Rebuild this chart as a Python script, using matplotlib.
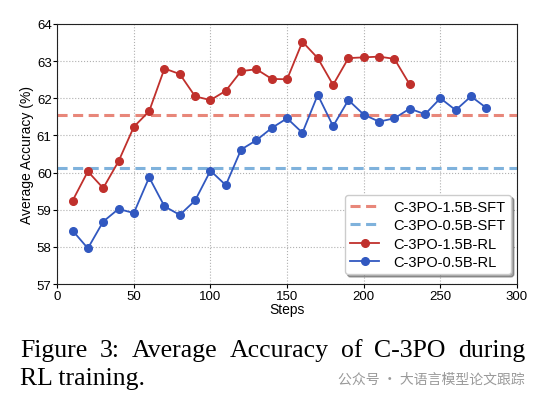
import matplotlib.pyplot as plt

steps_15b = [10, 20, 30, 40, 50, 60, 70, 80, 90, 100, 110, 120, 130, 140, 150,
             160, 170, 180, 190, 200, 210, 220, 230]
acc_15b = [59.24, 60.03, 59.58, 60.30, 61.23, 61.65, 62.80, 62.65, 62.05, 61.95,
           62.20, 62.73, 62.78, 62.52, 62.51, 63.52, 63.08, 62.36, 63.08, 63.10,
           63.12, 63.06, 62.37]

steps_05b = [10, 20, 30, 40, 50, 60, 70, 80, 90, 100, 110, 120, 130, 140, 150,
             160, 170, 180, 190, 200, 210, 220, 230, 240, 250, 260, 270, 280]
acc_05b = [58.44, 57.96, 58.68, 59.02, 58.91, 59.87, 59.09, 58.86, 59.25, 60.05,
           59.66, 60.62, 60.87, 61.20, 61.46, 61.07, 62.09, 61.25, 61.95, 61.56,
           61.37, 61.46, 61.72, 61.57, 62.00, 61.68, 62.05, 61.74]

sft_15b = 61.55
sft_05b = 60.12

caption_line1 = ['Figure', '3:', 'Average', 'Accuracy', 'of', 'C-3PO', 'during']
caption_line2 = 'RL training.'
watermark = '公众号 · 大语言模型论文跟踪'

plt.rcParams['font.family'] = ['Liberation Sans', 'DejaVu Sans']

fig = plt.figure(figsize=(5.5, 4.02), dpi=100)
ax = fig.add_axes([0.104, 0.291, 0.836, 0.647])

ax.axhline(sft_15b, color='#e8877a', linestyle='--', linewidth=2.2, dashes=(3.3, 1.8),
           label='C-3PO-1.5B-SFT', zorder=2)
ax.axhline(sft_05b, color='#7fb2dc', linestyle='--', linewidth=2.2, dashes=(3.3, 1.8),
           label='C-3PO-0.5B-SFT', zorder=2)
ax.plot(steps_15b, acc_15b, color='#c0302c', marker='o', markersize=5.5,
        linewidth=1.3, label='C-3PO-1.5B-RL', zorder=3)
ax.plot(steps_05b, acc_05b, color='#3158c0', marker='o', markersize=5.5,
        linewidth=1.3, label='C-3PO-0.5B-RL', zorder=3)

ax.set_xlim(0, 300)
ax.set_ylim(57, 64)
ax.set_xticks(range(0, 301, 50))
ax.set_yticks(range(57, 65))
ax.tick_params(labelsize=9.5, length=3, pad=1)
ax.grid(True, linestyle=':', color='#b0b0b0', linewidth=0.8)
ax.set_axisbelow(True)
ax.set_xlabel('Steps', fontsize=10, labelpad=0)
ax.set_ylabel('Average Accuracy (%)', fontsize=10, labelpad=2)
for s in ax.spines.values():
    s.set_color('#222222')

ax.legend(loc='lower right', fontsize=10.5, shadow=True, fancybox=True,
          handlelength=2.0, handletextpad=1.0, borderpad=0.35, labelspacing=0.3,
          framealpha=1, edgecolor='#cccccc', borderaxespad=0,
          bbox_to_anchor=(0.987, 0.038))

# justified first caption line, like LaTeX
renderer = fig.canvas.get_renderer()
serif = dict(fontsize=18.5, family=['Liberation Serif'], va='baseline')
words = [fig.text(0, 0, w, **serif) for w in caption_line1]
widths = [t.get_window_extent(renderer).width for t in words]
x0, x1 = 20, 525
gap = (x1 - x0 - sum(widths)) / (len(words) - 1)
x = x0
for t, w in zip(words, widths):
    t.set_position((x / 550, 1 - 357 / 402))
    x += w + gap

fig.text(20 / 550, 1 - 385 / 402, caption_line2, **serif)
fig.text(525 / 550, 1 - 384 / 402, watermark, fontsize=10, color='#9a9a9a',
         family=['Noto Sans CJK SC', 'DejaVu Sans'], ha='right', va='baseline')

fig.savefig('out.png', dpi=100)
